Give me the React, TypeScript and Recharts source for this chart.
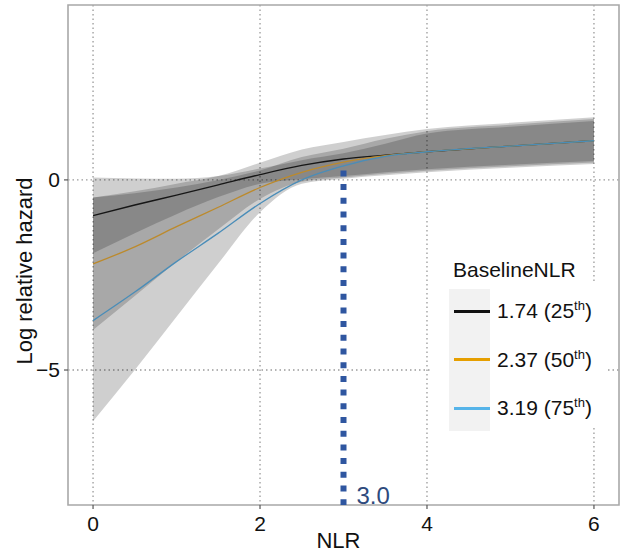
import React from 'react';
import {
  ComposedChart,
  Line,
  Area,
  XAxis,
  YAxis,
  CartesianGrid,
  ReferenceLine,
  ReferenceArea,
  ReferenceDot,
  Legend,
} from 'recharts';

// ---- data ----
const nlr = [0, 0.5, 1, 1.5, 2, 2.5, 3, 3.5, 4, 5, 6];
const fit25 = [-0.94, -0.66, -0.4, -0.13, 0.14, 0.38, 0.55, 0.65, 0.74, 0.89, 1.03];
const fit50 = [-2.21, -1.76, -1.23, -0.72, -0.2, 0.2, 0.47, 0.64, 0.74, 0.89, 1.03];
const fit75 = [-3.7, -2.95, -2.15, -1.4, -0.62, 0.0, 0.37, 0.62, 0.74, 0.89, 1.03];
const lo25 = [-1.93, -1.4, -0.9, -0.45, -0.1, 0.02, 0.1, 0.2, 0.28, 0.4, 0.5];
const hi25 = [0.06, 0.04, 0.03, 0.1, 0.3, 0.52, 0.7, 0.95, 1.22, 1.4, 1.55];
const lo50 = [-3.95, -3.05, -2.15, -1.3, -0.5, -0.05, 0.06, 0.16, 0.24, 0.36, 0.46];
const hi50 = [-0.46, -0.35, -0.2, 0.0, 0.25, 0.6, 0.82, 1.08, 1.28, 1.45, 1.6];
const lo75 = [-6.35, -5.0, -3.6, -2.2, -0.85, -0.1, 0.03, 0.12, 0.2, 0.32, 0.42];
const hi75 = [-0.46, -0.3, -0.1, 0.1, 0.45, 0.8, 1.0, 1.18, 1.34, 1.5, 1.65];

const xTicks = [0, 2, 4, 6];
const yTicks = [-5, 0];
const xDomain = [-0.3, 6.3];
const yDomain = [-8.55, 4.6];

const cutoff = 3.0;
const cutoffTop = 0.25;
const cutoffLabel = '3.0';

const legendTitle = 'BaselineNLR';
const legendValues = ['1.74', '2.37', '3.19'];
const legendPct = ['25', '50', '75'];
const lineColors = ['#111111', '#E69F00', '#56B4E9'];
// same series colours as seen through the grey confidence ribbons
const plotLineColors = ['#161616', '#BC8A2C', '#4A8DB8'];

const data = nlr.map((x, i) => ({
  x,
  f25: fit25[i],
  f50: fit50[i],
  f75: fit75[i],
  b25: [lo25[i], hi25[i]],
  b50: [lo50[i], hi50[i]],
  b75: [lo75[i], hi75[i]],
}));

const FONT = '"Liberation Sans", Arial, Helvetica, sans-serif';

const fmtY = (v: number) => (v < 0 ? `\u2212${Math.abs(v)}` : `${v}`);

const renderLegend = () => (
  <div style={{ position: 'relative', width: 190, height: 185, fontFamily: FONT, color: '#111' }}>
    <div style={{ position: 'absolute', left: 0, top: 34, width: 175, height: 144, background: '#ffffff' }} />
    <div style={{ position: 'absolute', left: 23, top: 8, fontSize: 21, lineHeight: '24px', whiteSpace: 'nowrap' }}>
      {legendTitle}
    </div>
    <div style={{ position: 'absolute', left: 19, top: 39, width: 41, height: 142, background: '#f2f2f2' }} />
    {legendValues.map((v, i) => (
      <React.Fragment key={v}>
        <div
          style={{
            position: 'absolute',
            left: 24,
            top: 59.5 + i * 48.5,
            width: 36,
            height: 3,
            background: lineColors[i],
          }}
        />
        <div
          style={{
            position: 'absolute',
            left: 67,
            top: 48 + i * 48.5,
            fontSize: 21,
            lineHeight: '26px',
            whiteSpace: 'nowrap',
          }}
        >
          {v} ({legendPct[i]}
          <sup style={{ fontSize: 13, lineHeight: 0, verticalAlign: '0.6em' }}>th</sup>)
        </div>
      </React.Fragment>
    ))}
  </div>
);

const YTitle = (props: any) => {
  const vb = props.viewBox || {};
  const cx = vb.x + 24;
  const cy = vb.y + vb.height / 2 + 16;
  return (
    <text
      x={cx}
      y={cy}
      transform={`rotate(-90, ${cx}, ${cy})`}
      textAnchor="middle"
      dominantBaseline="central"
      fontFamily={FONT}
      fontSize={22}
      fill="#111"
    >
      Log relative hazard
    </text>
  );
};

const XTitle = (props: any) => {
  const vb = props.viewBox || {};
  return (
    <text
      x={vb.x + vb.width / 2 - 5}
      y={vb.y + vb.height - 5}
      textAnchor="middle"
      fontFamily={FONT}
      fontSize={22}
      fill="#111"
    >
      NLR
    </text>
  );
};

const CutLabel = (props: any) => {
  const vb = props.viewBox || {};
  return (
    <text x={vb.x + 13} y={vb.y - 1} fontFamily={FONT} fontSize={24} fill="#2E4A7D">
      {cutoffLabel}
    </text>
  );
};

export default function App() {
  return (
    <div style={{ position: 'absolute', left: 0, top: 0, width: 622, height: 553, background: '#fff' }}>
      <ComposedChart
        width={622}
        height={553}
        data={data}
        margin={{ top: 5, right: 3, left: 0, bottom: 0 }}
      >
        <CartesianGrid
          stroke="#9a9a9a"
          strokeWidth={1.3}
          strokeDasharray="1.5 3"
          horizontalValues={yTicks}
          verticalValues={xTicks}
        />
        <XAxis
          type="number"
          dataKey="x"
          domain={xDomain}
          ticks={xTicks}
          allowDataOverflow
          height={48}
          axisLine={false}
          tickLine={{ stroke: '#555', strokeWidth: 1.2 }}
          tickSize={4}
          tickMargin={7}
          tick={{ fontFamily: FONT, fontSize: 21, fill: '#111' }}
          label={<XTitle />}
        />
        <YAxis
          type="number"
          domain={yDomain}
          ticks={yTicks}
          allowDataOverflow
          width={68}
          axisLine={false}
          tickLine={{ stroke: '#555', strokeWidth: 1.2 }}
          tickSize={4}
          tickMargin={4}
          tickFormatter={fmtY}
          tick={{ fontFamily: FONT, fontSize: 21, fill: '#111' }}
          label={<YTitle />}
        />
        <Area type="monotone" dataKey="b25" stroke="none" fill="#000" fillOpacity={0.19} isAnimationActive={false} />
        <Area type="monotone" dataKey="b50" stroke="none" fill="#000" fillOpacity={0.19} isAnimationActive={false} />
        <Area type="monotone" dataKey="b75" stroke="none" fill="#000" fillOpacity={0.19} isAnimationActive={false} />
        <Line type="monotone" dataKey="f25" stroke={plotLineColors[0]} strokeWidth={1.3} dot={false} isAnimationActive={false} />
        <Line type="monotone" dataKey="f50" stroke={plotLineColors[1]} strokeWidth={1.3} dot={false} isAnimationActive={false} />
        <Line type="monotone" dataKey="f75" stroke={plotLineColors[2]} strokeWidth={1.3} dot={false} isAnimationActive={false} />
        <ReferenceLine
          segment={[
            { x: cutoff, y: cutoffTop },
            { x: cutoff, y: yDomain[0] },
          ]}
          stroke="#2F56A0"
          strokeWidth={6}
          strokeDasharray="6 7.7"
          ifOverflow="visible"
        />
        <ReferenceDot x={cutoff} y={yDomain[0]} r={0} fill="none" stroke="none" ifOverflow="visible" label={<CutLabel />} />
        <ReferenceArea
          x1={xDomain[0]}
          x2={xDomain[1]}
          y1={yDomain[0]}
          y2={yDomain[1]}
          fill="none"
          fillOpacity={0}
          stroke="#a8a8a8"
          strokeWidth={1.6}
          ifOverflow="visible"
        />
        <Legend
          layout="vertical"
          align="center"
          verticalAlign="middle"
          content={renderLegend}
          wrapperStyle={{ position: 'absolute', left: 430, top: 250, width: 190, height: 185 }}
        />
      </ComposedChart>
    </div>
  );
}
